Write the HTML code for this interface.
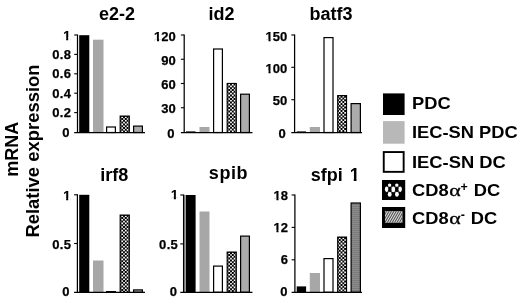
<!DOCTYPE html>
<html><head><meta charset="utf-8"><title>mRNA relative expression</title>
<style>
html,body{margin:0;padding:0;background:#fff;}
body{width:520px;height:301px;overflow:hidden;}
svg{display:block;}
text{font-family:"Liberation Sans",Arial,Helvetica,sans-serif;font-weight:bold;fill:#000;}
.t{font-size:18px;text-anchor:middle;}
.k{font-size:13px;text-anchor:end;stroke:#000;stroke-width:0.25px;}
.l{font-size:18px;}
.a{font-family:"Liberation Serif","DejaVu Serif",serif;font-weight:normal;font-size:17.5px;stroke:#000;stroke-width:0.3px;}
.s{font-size:12.5px;}
</style></head><body>
<svg width="520" height="301" viewBox="0 0 520 301">
<defs>
<pattern id="hst" width="2" height="2" patternUnits="userSpaceOnUse"><rect width="2" height="2" fill="#8c8c8c"/><rect width="2" height="1" fill="#7a7a7a"/></pattern>
<filter id="b1" x="-20%" y="-20%" width="140%" height="140%"><feGaussianBlur stdDeviation="0.35"/></filter>
</defs>
<rect width="520" height="301" fill="#fff"/>
<text class="l" transform="translate(18.1,149.2) rotate(-90)" text-anchor="middle">mRNA</text>
<text class="l" style="font-size:18.45px" transform="translate(38.8,151) rotate(-90)" text-anchor="middle">Relative expression</text>
<g>
<text class="t" x="116.9" y="20.2">e2-2</text>
<rect x="79.2" y="35.2" width="10.10" height="97.30" fill="#000"/>
<rect x="93" y="39.7" width="10.50" height="92.80" fill="#a7a7a7"/>
<rect x="106.60" y="127.00" width="8.80" height="5.50" fill="#fff" stroke="#000" stroke-width="1.2"/>
<clipPath id="k0"><rect x="120.75" y="116.65" width="8.00" height="15.85"/></clipPath><rect x="119.60" y="115.50" width="10.30" height="17.00" fill="#000"/><path clip-path="url(#k0)" d="M117.75 116.40h1.7v1.6h-1.7zM121.35 116.40h1.7v1.6h-1.7zM124.95 116.40h1.7v1.6h-1.7zM128.55 116.40h1.7v1.6h-1.7zM119.55 118.20h1.7v1.6h-1.7zM123.15 118.20h1.7v1.6h-1.7zM126.75 118.20h1.7v1.6h-1.7zM117.75 120.00h1.7v1.6h-1.7zM121.35 120.00h1.7v1.6h-1.7zM124.95 120.00h1.7v1.6h-1.7zM128.55 120.00h1.7v1.6h-1.7zM119.55 121.80h1.7v1.6h-1.7zM123.15 121.80h1.7v1.6h-1.7zM126.75 121.80h1.7v1.6h-1.7zM117.75 123.60h1.7v1.6h-1.7zM121.35 123.60h1.7v1.6h-1.7zM124.95 123.60h1.7v1.6h-1.7zM128.55 123.60h1.7v1.6h-1.7zM119.55 125.40h1.7v1.6h-1.7zM123.15 125.40h1.7v1.6h-1.7zM126.75 125.40h1.7v1.6h-1.7zM117.75 127.20h1.7v1.6h-1.7zM121.35 127.20h1.7v1.6h-1.7zM124.95 127.20h1.7v1.6h-1.7zM128.55 127.20h1.7v1.6h-1.7zM119.55 129.00h1.7v1.6h-1.7zM123.15 129.00h1.7v1.6h-1.7zM126.75 129.00h1.7v1.6h-1.7zM117.75 130.80h1.7v1.6h-1.7zM121.35 130.80h1.7v1.6h-1.7zM124.95 130.80h1.7v1.6h-1.7zM128.55 130.80h1.7v1.6h-1.7zM119.55 132.60h1.7v1.6h-1.7zM123.15 132.60h1.7v1.6h-1.7zM126.75 132.60h1.7v1.6h-1.7z" fill="#fff"/>
<rect x="133.60" y="126.10" width="8.80" height="6.40" fill="#acacac" stroke="#000" stroke-width="1.2"/>
<path d="M77.5 34.4V133.1M74.2 132.5H145" stroke="#000" stroke-width="1.25" fill="none"/>
<path d="M74.2 35H77.5" stroke="#000" stroke-width="1.1"/><clipPath id="f1"><path d="M60.27 23.90H73.50V37.42H60.27zM60.27 37.32H63.49V44.70H60.27zM66.16 37.32H68.24V44.70H66.16zM70.74 37.32H73.50V44.70H70.74z"/></clipPath><text class="k" x="70.50" y="39.50" clip-path="url(#f1)">1</text>
<path d="M74.2 54.4H77.5" stroke="#000" stroke-width="1.1"/><text class="k" x="71.30" y="58.90" letter-spacing="0.3">0.8</text>
<path d="M74.2 73.8H77.5" stroke="#000" stroke-width="1.1"/><text class="k" x="71.30" y="78.30" letter-spacing="0.3">0.6</text>
<path d="M74.2 93.2H77.5" stroke="#000" stroke-width="1.1"/><text class="k" x="71.30" y="97.70" letter-spacing="0.3">0.4</text>
<path d="M74.2 112.6H77.5" stroke="#000" stroke-width="1.1"/><text class="k" x="71.30" y="117.10" letter-spacing="0.3">0.2</text>
<text class="k" x="69.50" y="136.70">0</text>
</g>
<g>
<text class="t" x="221.5" y="20.2">id2</text>
<rect x="186" y="131.4" width="9.60" height="1.10" fill="#000"/>
<rect x="199.5" y="127.0" width="10.00" height="5.50" fill="#a7a7a7"/>
<rect x="213.60" y="49.00" width="8.80" height="83.50" fill="#fff" stroke="#000" stroke-width="1.2"/>
<clipPath id="k1"><rect x="227.75" y="84.05" width="8.00" height="48.45"/></clipPath><rect x="226.60" y="82.90" width="10.30" height="49.60" fill="#000"/><path clip-path="url(#k1)" d="M224.75 83.80h1.7v1.6h-1.7zM228.35 83.80h1.7v1.6h-1.7zM231.95 83.80h1.7v1.6h-1.7zM235.55 83.80h1.7v1.6h-1.7zM226.55 85.60h1.7v1.6h-1.7zM230.15 85.60h1.7v1.6h-1.7zM233.75 85.60h1.7v1.6h-1.7zM224.75 87.40h1.7v1.6h-1.7zM228.35 87.40h1.7v1.6h-1.7zM231.95 87.40h1.7v1.6h-1.7zM235.55 87.40h1.7v1.6h-1.7zM226.55 89.20h1.7v1.6h-1.7zM230.15 89.20h1.7v1.6h-1.7zM233.75 89.20h1.7v1.6h-1.7zM224.75 91.00h1.7v1.6h-1.7zM228.35 91.00h1.7v1.6h-1.7zM231.95 91.00h1.7v1.6h-1.7zM235.55 91.00h1.7v1.6h-1.7zM226.55 92.80h1.7v1.6h-1.7zM230.15 92.80h1.7v1.6h-1.7zM233.75 92.80h1.7v1.6h-1.7zM224.75 94.60h1.7v1.6h-1.7zM228.35 94.60h1.7v1.6h-1.7zM231.95 94.60h1.7v1.6h-1.7zM235.55 94.60h1.7v1.6h-1.7zM226.55 96.40h1.7v1.6h-1.7zM230.15 96.40h1.7v1.6h-1.7zM233.75 96.40h1.7v1.6h-1.7zM224.75 98.20h1.7v1.6h-1.7zM228.35 98.20h1.7v1.6h-1.7zM231.95 98.20h1.7v1.6h-1.7zM235.55 98.20h1.7v1.6h-1.7zM226.55 100.00h1.7v1.6h-1.7zM230.15 100.00h1.7v1.6h-1.7zM233.75 100.00h1.7v1.6h-1.7zM224.75 101.80h1.7v1.6h-1.7zM228.35 101.80h1.7v1.6h-1.7zM231.95 101.80h1.7v1.6h-1.7zM235.55 101.80h1.7v1.6h-1.7zM226.55 103.60h1.7v1.6h-1.7zM230.15 103.60h1.7v1.6h-1.7zM233.75 103.60h1.7v1.6h-1.7zM224.75 105.40h1.7v1.6h-1.7zM228.35 105.40h1.7v1.6h-1.7zM231.95 105.40h1.7v1.6h-1.7zM235.55 105.40h1.7v1.6h-1.7zM226.55 107.20h1.7v1.6h-1.7zM230.15 107.20h1.7v1.6h-1.7zM233.75 107.20h1.7v1.6h-1.7zM224.75 109.00h1.7v1.6h-1.7zM228.35 109.00h1.7v1.6h-1.7zM231.95 109.00h1.7v1.6h-1.7zM235.55 109.00h1.7v1.6h-1.7zM226.55 110.80h1.7v1.6h-1.7zM230.15 110.80h1.7v1.6h-1.7zM233.75 110.80h1.7v1.6h-1.7zM224.75 112.60h1.7v1.6h-1.7zM228.35 112.60h1.7v1.6h-1.7zM231.95 112.60h1.7v1.6h-1.7zM235.55 112.60h1.7v1.6h-1.7zM226.55 114.40h1.7v1.6h-1.7zM230.15 114.40h1.7v1.6h-1.7zM233.75 114.40h1.7v1.6h-1.7zM224.75 116.20h1.7v1.6h-1.7zM228.35 116.20h1.7v1.6h-1.7zM231.95 116.20h1.7v1.6h-1.7zM235.55 116.20h1.7v1.6h-1.7zM226.55 118.00h1.7v1.6h-1.7zM230.15 118.00h1.7v1.6h-1.7zM233.75 118.00h1.7v1.6h-1.7zM224.75 119.80h1.7v1.6h-1.7zM228.35 119.80h1.7v1.6h-1.7zM231.95 119.80h1.7v1.6h-1.7zM235.55 119.80h1.7v1.6h-1.7zM226.55 121.60h1.7v1.6h-1.7zM230.15 121.60h1.7v1.6h-1.7zM233.75 121.60h1.7v1.6h-1.7zM224.75 123.40h1.7v1.6h-1.7zM228.35 123.40h1.7v1.6h-1.7zM231.95 123.40h1.7v1.6h-1.7zM235.55 123.40h1.7v1.6h-1.7zM226.55 125.20h1.7v1.6h-1.7zM230.15 125.20h1.7v1.6h-1.7zM233.75 125.20h1.7v1.6h-1.7zM224.75 127.00h1.7v1.6h-1.7zM228.35 127.00h1.7v1.6h-1.7zM231.95 127.00h1.7v1.6h-1.7zM235.55 127.00h1.7v1.6h-1.7zM226.55 128.80h1.7v1.6h-1.7zM230.15 128.80h1.7v1.6h-1.7zM233.75 128.80h1.7v1.6h-1.7zM224.75 130.60h1.7v1.6h-1.7zM228.35 130.60h1.7v1.6h-1.7zM231.95 130.60h1.7v1.6h-1.7zM235.55 130.60h1.7v1.6h-1.7zM226.55 132.40h1.7v1.6h-1.7zM230.15 132.40h1.7v1.6h-1.7zM233.75 132.40h1.7v1.6h-1.7z" fill="#fff"/>
<rect x="240.60" y="94.20" width="8.80" height="38.30" fill="#acacac" stroke="#000" stroke-width="1.2"/>
<path d="M184.2 34.4V133.1M180.89999999999998 132.5H252.5" stroke="#000" stroke-width="1.25" fill="none"/>
<path d="M180.89999999999998 35H184.2" stroke="#000" stroke-width="1.1"/><clipPath id="f2"><path d="M151.12 25.70H178.80V39.22H151.12zM151.12 39.12H154.33V46.50H151.12zM157.00 39.12H159.08V46.50H157.00zM161.58 39.12H178.80V46.50H161.58z"/></clipPath><text class="k" x="175.80" y="41.30" clip-path="url(#f2)">120</text>
<path d="M180.89999999999998 59.25H184.2" stroke="#000" stroke-width="1.1"/><text class="k" x="175.80" y="64.65">90</text>
<path d="M180.89999999999998 83.5H184.2" stroke="#000" stroke-width="1.1"/><text class="k" x="175.80" y="88.90">60</text>
<path d="M180.89999999999998 107.75H184.2" stroke="#000" stroke-width="1.1"/><text class="k" x="175.80" y="113.15">30</text>
<text class="k" x="174.40" y="137.90">0</text>
</g>
<g>
<text class="t" x="331" y="20.2">batf3</text>
<rect x="296.7" y="131.4" width="9.40" height="1.10" fill="#000"/>
<rect x="309.8" y="127" width="10.20" height="5.50" fill="#a7a7a7"/>
<rect x="324.00" y="37.60" width="9.00" height="94.90" fill="#fff" stroke="#000" stroke-width="1.2"/>
<clipPath id="k2"><rect x="338.25" y="96.15" width="7.70" height="36.35"/></clipPath><rect x="337.10" y="95.00" width="10.00" height="37.50" fill="#000"/><path clip-path="url(#k2)" d="M335.25 95.90h1.7v1.6h-1.7zM338.85 95.90h1.7v1.6h-1.7zM342.45 95.90h1.7v1.6h-1.7zM346.05 95.90h1.7v1.6h-1.7zM337.05 97.70h1.7v1.6h-1.7zM340.65 97.70h1.7v1.6h-1.7zM344.25 97.70h1.7v1.6h-1.7zM335.25 99.50h1.7v1.6h-1.7zM338.85 99.50h1.7v1.6h-1.7zM342.45 99.50h1.7v1.6h-1.7zM346.05 99.50h1.7v1.6h-1.7zM337.05 101.30h1.7v1.6h-1.7zM340.65 101.30h1.7v1.6h-1.7zM344.25 101.30h1.7v1.6h-1.7zM335.25 103.10h1.7v1.6h-1.7zM338.85 103.10h1.7v1.6h-1.7zM342.45 103.10h1.7v1.6h-1.7zM346.05 103.10h1.7v1.6h-1.7zM337.05 104.90h1.7v1.6h-1.7zM340.65 104.90h1.7v1.6h-1.7zM344.25 104.90h1.7v1.6h-1.7zM335.25 106.70h1.7v1.6h-1.7zM338.85 106.70h1.7v1.6h-1.7zM342.45 106.70h1.7v1.6h-1.7zM346.05 106.70h1.7v1.6h-1.7zM337.05 108.50h1.7v1.6h-1.7zM340.65 108.50h1.7v1.6h-1.7zM344.25 108.50h1.7v1.6h-1.7zM335.25 110.30h1.7v1.6h-1.7zM338.85 110.30h1.7v1.6h-1.7zM342.45 110.30h1.7v1.6h-1.7zM346.05 110.30h1.7v1.6h-1.7zM337.05 112.10h1.7v1.6h-1.7zM340.65 112.10h1.7v1.6h-1.7zM344.25 112.10h1.7v1.6h-1.7zM335.25 113.90h1.7v1.6h-1.7zM338.85 113.90h1.7v1.6h-1.7zM342.45 113.90h1.7v1.6h-1.7zM346.05 113.90h1.7v1.6h-1.7zM337.05 115.70h1.7v1.6h-1.7zM340.65 115.70h1.7v1.6h-1.7zM344.25 115.70h1.7v1.6h-1.7zM335.25 117.50h1.7v1.6h-1.7zM338.85 117.50h1.7v1.6h-1.7zM342.45 117.50h1.7v1.6h-1.7zM346.05 117.50h1.7v1.6h-1.7zM337.05 119.30h1.7v1.6h-1.7zM340.65 119.30h1.7v1.6h-1.7zM344.25 119.30h1.7v1.6h-1.7zM335.25 121.10h1.7v1.6h-1.7zM338.85 121.10h1.7v1.6h-1.7zM342.45 121.10h1.7v1.6h-1.7zM346.05 121.10h1.7v1.6h-1.7zM337.05 122.90h1.7v1.6h-1.7zM340.65 122.90h1.7v1.6h-1.7zM344.25 122.90h1.7v1.6h-1.7zM335.25 124.70h1.7v1.6h-1.7zM338.85 124.70h1.7v1.6h-1.7zM342.45 124.70h1.7v1.6h-1.7zM346.05 124.70h1.7v1.6h-1.7zM337.05 126.50h1.7v1.6h-1.7zM340.65 126.50h1.7v1.6h-1.7zM344.25 126.50h1.7v1.6h-1.7zM335.25 128.30h1.7v1.6h-1.7zM338.85 128.30h1.7v1.6h-1.7zM342.45 128.30h1.7v1.6h-1.7zM346.05 128.30h1.7v1.6h-1.7zM337.05 130.10h1.7v1.6h-1.7zM340.65 130.10h1.7v1.6h-1.7zM344.25 130.10h1.7v1.6h-1.7zM335.25 131.90h1.7v1.6h-1.7zM338.85 131.90h1.7v1.6h-1.7zM342.45 131.90h1.7v1.6h-1.7zM346.05 131.90h1.7v1.6h-1.7z" fill="#fff"/>
<rect x="351.10" y="103.60" width="9.30" height="28.90" fill="#acacac" stroke="#000" stroke-width="1.2"/>
<path d="M294.6 34.4V133.1M291.3 132.5H362" stroke="#000" stroke-width="1.25" fill="none"/>
<path d="M291.3 35H294.6" stroke="#000" stroke-width="1.1"/><clipPath id="f3"><path d="M262.62 25.70H290.30V39.22H262.62zM262.62 39.12H265.83V46.50H262.62zM268.50 39.12H270.58V46.50H268.50zM273.08 39.12H290.30V46.50H273.08z"/></clipPath><text class="k" x="287.30" y="41.30" clip-path="url(#f3)">150</text>
<path d="M291.3 67.3H294.6" stroke="#000" stroke-width="1.1"/><clipPath id="f4"><path d="M262.62 57.10H290.30V70.62H262.62zM262.62 70.52H265.83V77.90H262.62zM268.50 70.52H270.58V77.90H268.50zM273.08 70.52H290.30V77.90H273.08z"/></clipPath><text class="k" x="287.30" y="72.70" clip-path="url(#f4)">100</text>
<path d="M291.3 99.7H294.6" stroke="#000" stroke-width="1.1"/><text class="k" x="287.30" y="105.10">50</text>
<text class="k" x="285.70" y="138.00">0</text>
</g>
<g>
<text class="t" x="114.25" y="181.3">irf8</text>
<rect x="79.2" y="194.8" width="10.10" height="97.45" fill="#000"/>
<rect x="93" y="260.5" width="10.50" height="31.75" fill="#a7a7a7"/>
<rect x="106.60" y="291.60" width="8.80" height="0.65" fill="#fff" stroke="#000" stroke-width="1.2"/>
<clipPath id="k3"><rect x="120.75" y="215.65" width="8.00" height="76.60"/></clipPath><rect x="119.60" y="214.50" width="10.30" height="77.75" fill="#000"/><path clip-path="url(#k3)" d="M117.75 215.40h1.7v1.6h-1.7zM121.35 215.40h1.7v1.6h-1.7zM124.95 215.40h1.7v1.6h-1.7zM128.55 215.40h1.7v1.6h-1.7zM119.55 217.20h1.7v1.6h-1.7zM123.15 217.20h1.7v1.6h-1.7zM126.75 217.20h1.7v1.6h-1.7zM117.75 219.00h1.7v1.6h-1.7zM121.35 219.00h1.7v1.6h-1.7zM124.95 219.00h1.7v1.6h-1.7zM128.55 219.00h1.7v1.6h-1.7zM119.55 220.80h1.7v1.6h-1.7zM123.15 220.80h1.7v1.6h-1.7zM126.75 220.80h1.7v1.6h-1.7zM117.75 222.60h1.7v1.6h-1.7zM121.35 222.60h1.7v1.6h-1.7zM124.95 222.60h1.7v1.6h-1.7zM128.55 222.60h1.7v1.6h-1.7zM119.55 224.40h1.7v1.6h-1.7zM123.15 224.40h1.7v1.6h-1.7zM126.75 224.40h1.7v1.6h-1.7zM117.75 226.20h1.7v1.6h-1.7zM121.35 226.20h1.7v1.6h-1.7zM124.95 226.20h1.7v1.6h-1.7zM128.55 226.20h1.7v1.6h-1.7zM119.55 228.00h1.7v1.6h-1.7zM123.15 228.00h1.7v1.6h-1.7zM126.75 228.00h1.7v1.6h-1.7zM117.75 229.80h1.7v1.6h-1.7zM121.35 229.80h1.7v1.6h-1.7zM124.95 229.80h1.7v1.6h-1.7zM128.55 229.80h1.7v1.6h-1.7zM119.55 231.60h1.7v1.6h-1.7zM123.15 231.60h1.7v1.6h-1.7zM126.75 231.60h1.7v1.6h-1.7zM117.75 233.40h1.7v1.6h-1.7zM121.35 233.40h1.7v1.6h-1.7zM124.95 233.40h1.7v1.6h-1.7zM128.55 233.40h1.7v1.6h-1.7zM119.55 235.20h1.7v1.6h-1.7zM123.15 235.20h1.7v1.6h-1.7zM126.75 235.20h1.7v1.6h-1.7zM117.75 237.00h1.7v1.6h-1.7zM121.35 237.00h1.7v1.6h-1.7zM124.95 237.00h1.7v1.6h-1.7zM128.55 237.00h1.7v1.6h-1.7zM119.55 238.80h1.7v1.6h-1.7zM123.15 238.80h1.7v1.6h-1.7zM126.75 238.80h1.7v1.6h-1.7zM117.75 240.60h1.7v1.6h-1.7zM121.35 240.60h1.7v1.6h-1.7zM124.95 240.60h1.7v1.6h-1.7zM128.55 240.60h1.7v1.6h-1.7zM119.55 242.40h1.7v1.6h-1.7zM123.15 242.40h1.7v1.6h-1.7zM126.75 242.40h1.7v1.6h-1.7zM117.75 244.20h1.7v1.6h-1.7zM121.35 244.20h1.7v1.6h-1.7zM124.95 244.20h1.7v1.6h-1.7zM128.55 244.20h1.7v1.6h-1.7zM119.55 246.00h1.7v1.6h-1.7zM123.15 246.00h1.7v1.6h-1.7zM126.75 246.00h1.7v1.6h-1.7zM117.75 247.80h1.7v1.6h-1.7zM121.35 247.80h1.7v1.6h-1.7zM124.95 247.80h1.7v1.6h-1.7zM128.55 247.80h1.7v1.6h-1.7zM119.55 249.60h1.7v1.6h-1.7zM123.15 249.60h1.7v1.6h-1.7zM126.75 249.60h1.7v1.6h-1.7zM117.75 251.40h1.7v1.6h-1.7zM121.35 251.40h1.7v1.6h-1.7zM124.95 251.40h1.7v1.6h-1.7zM128.55 251.40h1.7v1.6h-1.7zM119.55 253.20h1.7v1.6h-1.7zM123.15 253.20h1.7v1.6h-1.7zM126.75 253.20h1.7v1.6h-1.7zM117.75 255.00h1.7v1.6h-1.7zM121.35 255.00h1.7v1.6h-1.7zM124.95 255.00h1.7v1.6h-1.7zM128.55 255.00h1.7v1.6h-1.7zM119.55 256.80h1.7v1.6h-1.7zM123.15 256.80h1.7v1.6h-1.7zM126.75 256.80h1.7v1.6h-1.7zM117.75 258.60h1.7v1.6h-1.7zM121.35 258.60h1.7v1.6h-1.7zM124.95 258.60h1.7v1.6h-1.7zM128.55 258.60h1.7v1.6h-1.7zM119.55 260.40h1.7v1.6h-1.7zM123.15 260.40h1.7v1.6h-1.7zM126.75 260.40h1.7v1.6h-1.7zM117.75 262.20h1.7v1.6h-1.7zM121.35 262.20h1.7v1.6h-1.7zM124.95 262.20h1.7v1.6h-1.7zM128.55 262.20h1.7v1.6h-1.7zM119.55 264.00h1.7v1.6h-1.7zM123.15 264.00h1.7v1.6h-1.7zM126.75 264.00h1.7v1.6h-1.7zM117.75 265.80h1.7v1.6h-1.7zM121.35 265.80h1.7v1.6h-1.7zM124.95 265.80h1.7v1.6h-1.7zM128.55 265.80h1.7v1.6h-1.7zM119.55 267.60h1.7v1.6h-1.7zM123.15 267.60h1.7v1.6h-1.7zM126.75 267.60h1.7v1.6h-1.7zM117.75 269.40h1.7v1.6h-1.7zM121.35 269.40h1.7v1.6h-1.7zM124.95 269.40h1.7v1.6h-1.7zM128.55 269.40h1.7v1.6h-1.7zM119.55 271.20h1.7v1.6h-1.7zM123.15 271.20h1.7v1.6h-1.7zM126.75 271.20h1.7v1.6h-1.7zM117.75 273.00h1.7v1.6h-1.7zM121.35 273.00h1.7v1.6h-1.7zM124.95 273.00h1.7v1.6h-1.7zM128.55 273.00h1.7v1.6h-1.7zM119.55 274.80h1.7v1.6h-1.7zM123.15 274.80h1.7v1.6h-1.7zM126.75 274.80h1.7v1.6h-1.7zM117.75 276.60h1.7v1.6h-1.7zM121.35 276.60h1.7v1.6h-1.7zM124.95 276.60h1.7v1.6h-1.7zM128.55 276.60h1.7v1.6h-1.7zM119.55 278.40h1.7v1.6h-1.7zM123.15 278.40h1.7v1.6h-1.7zM126.75 278.40h1.7v1.6h-1.7zM117.75 280.20h1.7v1.6h-1.7zM121.35 280.20h1.7v1.6h-1.7zM124.95 280.20h1.7v1.6h-1.7zM128.55 280.20h1.7v1.6h-1.7zM119.55 282.00h1.7v1.6h-1.7zM123.15 282.00h1.7v1.6h-1.7zM126.75 282.00h1.7v1.6h-1.7zM117.75 283.80h1.7v1.6h-1.7zM121.35 283.80h1.7v1.6h-1.7zM124.95 283.80h1.7v1.6h-1.7zM128.55 283.80h1.7v1.6h-1.7zM119.55 285.60h1.7v1.6h-1.7zM123.15 285.60h1.7v1.6h-1.7zM126.75 285.60h1.7v1.6h-1.7zM117.75 287.40h1.7v1.6h-1.7zM121.35 287.40h1.7v1.6h-1.7zM124.95 287.40h1.7v1.6h-1.7zM128.55 287.40h1.7v1.6h-1.7zM119.55 289.20h1.7v1.6h-1.7zM123.15 289.20h1.7v1.6h-1.7zM126.75 289.20h1.7v1.6h-1.7zM117.75 291.00h1.7v1.6h-1.7zM121.35 291.00h1.7v1.6h-1.7zM124.95 291.00h1.7v1.6h-1.7zM128.55 291.00h1.7v1.6h-1.7z" fill="#fff"/>
<rect x="133.60" y="289.90" width="8.80" height="2.35" fill="#acacac" stroke="#000" stroke-width="1.2"/>
<path d="M77.4 194.20000000000002V292.85M74.10000000000001 292.25H145" stroke="#000" stroke-width="1.25" fill="none"/>
<path d="M74.10000000000001 194.8H77.4" stroke="#000" stroke-width="1.1"/><clipPath id="f5"><path d="M60.27 184.40H73.50V197.92H60.27zM60.27 197.82H63.49V205.20H60.27zM66.16 197.82H68.24V205.20H66.16zM70.74 197.82H73.50V205.20H70.74z"/></clipPath><text class="k" x="70.50" y="200.00" clip-path="url(#f5)">1</text>
<path d="M74.10000000000001 243.5H77.4" stroke="#000" stroke-width="1.1"/><text class="k" x="71.30" y="248.90" letter-spacing="0.3">0.5</text>
<text class="k" x="69.50" y="295.95">0</text>
</g>
<g>
<text class="t" x="228.5" y="179.3" letter-spacing="0.6">spib</text>
<rect x="183.6" y="195.0" width="2.60" height="97.25" fill="#9a9a9a"/>
<rect x="186" y="195.0" width="9.60" height="97.25" fill="#000"/>
<rect x="199.5" y="211.5" width="10.00" height="80.75" fill="#a7a7a7"/>
<rect x="213.60" y="266.10" width="8.80" height="26.15" fill="#fff" stroke="#000" stroke-width="1.2"/>
<clipPath id="k4"><rect x="227.75" y="252.65" width="8.00" height="39.60"/></clipPath><rect x="226.60" y="251.50" width="10.30" height="40.75" fill="#000"/><path clip-path="url(#k4)" d="M224.75 252.40h1.7v1.6h-1.7zM228.35 252.40h1.7v1.6h-1.7zM231.95 252.40h1.7v1.6h-1.7zM235.55 252.40h1.7v1.6h-1.7zM226.55 254.20h1.7v1.6h-1.7zM230.15 254.20h1.7v1.6h-1.7zM233.75 254.20h1.7v1.6h-1.7zM224.75 256.00h1.7v1.6h-1.7zM228.35 256.00h1.7v1.6h-1.7zM231.95 256.00h1.7v1.6h-1.7zM235.55 256.00h1.7v1.6h-1.7zM226.55 257.80h1.7v1.6h-1.7zM230.15 257.80h1.7v1.6h-1.7zM233.75 257.80h1.7v1.6h-1.7zM224.75 259.60h1.7v1.6h-1.7zM228.35 259.60h1.7v1.6h-1.7zM231.95 259.60h1.7v1.6h-1.7zM235.55 259.60h1.7v1.6h-1.7zM226.55 261.40h1.7v1.6h-1.7zM230.15 261.40h1.7v1.6h-1.7zM233.75 261.40h1.7v1.6h-1.7zM224.75 263.20h1.7v1.6h-1.7zM228.35 263.20h1.7v1.6h-1.7zM231.95 263.20h1.7v1.6h-1.7zM235.55 263.20h1.7v1.6h-1.7zM226.55 265.00h1.7v1.6h-1.7zM230.15 265.00h1.7v1.6h-1.7zM233.75 265.00h1.7v1.6h-1.7zM224.75 266.80h1.7v1.6h-1.7zM228.35 266.80h1.7v1.6h-1.7zM231.95 266.80h1.7v1.6h-1.7zM235.55 266.80h1.7v1.6h-1.7zM226.55 268.60h1.7v1.6h-1.7zM230.15 268.60h1.7v1.6h-1.7zM233.75 268.60h1.7v1.6h-1.7zM224.75 270.40h1.7v1.6h-1.7zM228.35 270.40h1.7v1.6h-1.7zM231.95 270.40h1.7v1.6h-1.7zM235.55 270.40h1.7v1.6h-1.7zM226.55 272.20h1.7v1.6h-1.7zM230.15 272.20h1.7v1.6h-1.7zM233.75 272.20h1.7v1.6h-1.7zM224.75 274.00h1.7v1.6h-1.7zM228.35 274.00h1.7v1.6h-1.7zM231.95 274.00h1.7v1.6h-1.7zM235.55 274.00h1.7v1.6h-1.7zM226.55 275.80h1.7v1.6h-1.7zM230.15 275.80h1.7v1.6h-1.7zM233.75 275.80h1.7v1.6h-1.7zM224.75 277.60h1.7v1.6h-1.7zM228.35 277.60h1.7v1.6h-1.7zM231.95 277.60h1.7v1.6h-1.7zM235.55 277.60h1.7v1.6h-1.7zM226.55 279.40h1.7v1.6h-1.7zM230.15 279.40h1.7v1.6h-1.7zM233.75 279.40h1.7v1.6h-1.7zM224.75 281.20h1.7v1.6h-1.7zM228.35 281.20h1.7v1.6h-1.7zM231.95 281.20h1.7v1.6h-1.7zM235.55 281.20h1.7v1.6h-1.7zM226.55 283.00h1.7v1.6h-1.7zM230.15 283.00h1.7v1.6h-1.7zM233.75 283.00h1.7v1.6h-1.7zM224.75 284.80h1.7v1.6h-1.7zM228.35 284.80h1.7v1.6h-1.7zM231.95 284.80h1.7v1.6h-1.7zM235.55 284.80h1.7v1.6h-1.7zM226.55 286.60h1.7v1.6h-1.7zM230.15 286.60h1.7v1.6h-1.7zM233.75 286.60h1.7v1.6h-1.7zM224.75 288.40h1.7v1.6h-1.7zM228.35 288.40h1.7v1.6h-1.7zM231.95 288.40h1.7v1.6h-1.7zM235.55 288.40h1.7v1.6h-1.7zM226.55 290.20h1.7v1.6h-1.7zM230.15 290.20h1.7v1.6h-1.7zM233.75 290.20h1.7v1.6h-1.7zM224.75 292.00h1.7v1.6h-1.7zM228.35 292.00h1.7v1.6h-1.7zM231.95 292.00h1.7v1.6h-1.7zM235.55 292.00h1.7v1.6h-1.7z" fill="#fff"/>
<rect x="240.60" y="236.10" width="8.80" height="56.15" fill="#acacac" stroke="#000" stroke-width="1.2"/>
<path d="M183.6 194.4V292.85M180.29999999999998 292.25H252.5" stroke="#000" stroke-width="1.25" fill="none"/>
<path d="M180.29999999999998 195.0H183.6" stroke="#000" stroke-width="1.1"/><clipPath id="f6"><path d="M167.97 183.80H181.20V197.32H167.97zM167.97 197.22H171.19V204.60H167.97zM173.86 197.22H175.94V204.60H173.86zM178.44 197.22H181.20V204.60H178.44z"/></clipPath><text class="k" x="178.20" y="199.40" clip-path="url(#f6)">1</text>
<path d="M180.29999999999998 243.9H183.6" stroke="#000" stroke-width="1.1"/><text class="k" x="178.10" y="249.30" letter-spacing="0.3">0.5</text>
<text class="k" x="176.90" y="295.55">0</text>
</g>
<clipPath id="f7"><path d="M289.70 159.40H362.71V178.41H289.70zM289.70 178.31H350.23V188.20H289.70zM353.75 178.31H356.52V188.20H353.75zM359.81 178.31H362.71V188.20H359.81z"/></clipPath><g>
<text class="t" x="335.2" y="181" clip-path="url(#f7)">sfpi <tspan dx="2">1</tspan></text>
<rect x="296.7" y="286.4" width="9.40" height="5.85" fill="#000"/>
<rect x="309.8" y="273" width="10.20" height="19.25" fill="#a7a7a7"/>
<rect x="324.00" y="258.60" width="9.00" height="33.65" fill="#fff" stroke="#000" stroke-width="1.2"/>
<clipPath id="k5"><rect x="338.25" y="237.65" width="7.70" height="54.60"/></clipPath><rect x="337.10" y="236.50" width="10.00" height="55.75" fill="#000"/><path clip-path="url(#k5)" d="M335.25 237.40h1.7v1.6h-1.7zM338.85 237.40h1.7v1.6h-1.7zM342.45 237.40h1.7v1.6h-1.7zM346.05 237.40h1.7v1.6h-1.7zM337.05 239.20h1.7v1.6h-1.7zM340.65 239.20h1.7v1.6h-1.7zM344.25 239.20h1.7v1.6h-1.7zM335.25 241.00h1.7v1.6h-1.7zM338.85 241.00h1.7v1.6h-1.7zM342.45 241.00h1.7v1.6h-1.7zM346.05 241.00h1.7v1.6h-1.7zM337.05 242.80h1.7v1.6h-1.7zM340.65 242.80h1.7v1.6h-1.7zM344.25 242.80h1.7v1.6h-1.7zM335.25 244.60h1.7v1.6h-1.7zM338.85 244.60h1.7v1.6h-1.7zM342.45 244.60h1.7v1.6h-1.7zM346.05 244.60h1.7v1.6h-1.7zM337.05 246.40h1.7v1.6h-1.7zM340.65 246.40h1.7v1.6h-1.7zM344.25 246.40h1.7v1.6h-1.7zM335.25 248.20h1.7v1.6h-1.7zM338.85 248.20h1.7v1.6h-1.7zM342.45 248.20h1.7v1.6h-1.7zM346.05 248.20h1.7v1.6h-1.7zM337.05 250.00h1.7v1.6h-1.7zM340.65 250.00h1.7v1.6h-1.7zM344.25 250.00h1.7v1.6h-1.7zM335.25 251.80h1.7v1.6h-1.7zM338.85 251.80h1.7v1.6h-1.7zM342.45 251.80h1.7v1.6h-1.7zM346.05 251.80h1.7v1.6h-1.7zM337.05 253.60h1.7v1.6h-1.7zM340.65 253.60h1.7v1.6h-1.7zM344.25 253.60h1.7v1.6h-1.7zM335.25 255.40h1.7v1.6h-1.7zM338.85 255.40h1.7v1.6h-1.7zM342.45 255.40h1.7v1.6h-1.7zM346.05 255.40h1.7v1.6h-1.7zM337.05 257.20h1.7v1.6h-1.7zM340.65 257.20h1.7v1.6h-1.7zM344.25 257.20h1.7v1.6h-1.7zM335.25 259.00h1.7v1.6h-1.7zM338.85 259.00h1.7v1.6h-1.7zM342.45 259.00h1.7v1.6h-1.7zM346.05 259.00h1.7v1.6h-1.7zM337.05 260.80h1.7v1.6h-1.7zM340.65 260.80h1.7v1.6h-1.7zM344.25 260.80h1.7v1.6h-1.7zM335.25 262.60h1.7v1.6h-1.7zM338.85 262.60h1.7v1.6h-1.7zM342.45 262.60h1.7v1.6h-1.7zM346.05 262.60h1.7v1.6h-1.7zM337.05 264.40h1.7v1.6h-1.7zM340.65 264.40h1.7v1.6h-1.7zM344.25 264.40h1.7v1.6h-1.7zM335.25 266.20h1.7v1.6h-1.7zM338.85 266.20h1.7v1.6h-1.7zM342.45 266.20h1.7v1.6h-1.7zM346.05 266.20h1.7v1.6h-1.7zM337.05 268.00h1.7v1.6h-1.7zM340.65 268.00h1.7v1.6h-1.7zM344.25 268.00h1.7v1.6h-1.7zM335.25 269.80h1.7v1.6h-1.7zM338.85 269.80h1.7v1.6h-1.7zM342.45 269.80h1.7v1.6h-1.7zM346.05 269.80h1.7v1.6h-1.7zM337.05 271.60h1.7v1.6h-1.7zM340.65 271.60h1.7v1.6h-1.7zM344.25 271.60h1.7v1.6h-1.7zM335.25 273.40h1.7v1.6h-1.7zM338.85 273.40h1.7v1.6h-1.7zM342.45 273.40h1.7v1.6h-1.7zM346.05 273.40h1.7v1.6h-1.7zM337.05 275.20h1.7v1.6h-1.7zM340.65 275.20h1.7v1.6h-1.7zM344.25 275.20h1.7v1.6h-1.7zM335.25 277.00h1.7v1.6h-1.7zM338.85 277.00h1.7v1.6h-1.7zM342.45 277.00h1.7v1.6h-1.7zM346.05 277.00h1.7v1.6h-1.7zM337.05 278.80h1.7v1.6h-1.7zM340.65 278.80h1.7v1.6h-1.7zM344.25 278.80h1.7v1.6h-1.7zM335.25 280.60h1.7v1.6h-1.7zM338.85 280.60h1.7v1.6h-1.7zM342.45 280.60h1.7v1.6h-1.7zM346.05 280.60h1.7v1.6h-1.7zM337.05 282.40h1.7v1.6h-1.7zM340.65 282.40h1.7v1.6h-1.7zM344.25 282.40h1.7v1.6h-1.7zM335.25 284.20h1.7v1.6h-1.7zM338.85 284.20h1.7v1.6h-1.7zM342.45 284.20h1.7v1.6h-1.7zM346.05 284.20h1.7v1.6h-1.7zM337.05 286.00h1.7v1.6h-1.7zM340.65 286.00h1.7v1.6h-1.7zM344.25 286.00h1.7v1.6h-1.7zM335.25 287.80h1.7v1.6h-1.7zM338.85 287.80h1.7v1.6h-1.7zM342.45 287.80h1.7v1.6h-1.7zM346.05 287.80h1.7v1.6h-1.7zM337.05 289.60h1.7v1.6h-1.7zM340.65 289.60h1.7v1.6h-1.7zM344.25 289.60h1.7v1.6h-1.7zM335.25 291.40h1.7v1.6h-1.7zM338.85 291.40h1.7v1.6h-1.7zM342.45 291.40h1.7v1.6h-1.7zM346.05 291.40h1.7v1.6h-1.7z" fill="#fff"/>
<rect x="351.10" y="203.00" width="9.30" height="89.25" fill="url(#hst)" stroke="#000" stroke-width="1.2"/>
<path d="M294.9 194.4V292.85M291.59999999999997 292.25H362" stroke="#000" stroke-width="1.25" fill="none"/>
<path d="M291.59999999999997 195H294.9" stroke="#000" stroke-width="1.1"/><clipPath id="f8"><path d="M270.54 184.80H291.00V198.32H270.54zM270.54 198.22H273.76V205.60H270.54zM276.43 198.22H278.51V205.60H276.43zM281.01 198.22H291.00V205.60H281.01z"/></clipPath><text class="k" x="288.00" y="200.40" clip-path="url(#f8)">18</text>
<path d="M291.59999999999997 227.4H294.9" stroke="#000" stroke-width="1.1"/><clipPath id="f9"><path d="M270.54 216.20H291.00V229.72H270.54zM270.54 229.62H273.76V237.00H270.54zM276.43 229.62H278.51V237.00H276.43zM281.01 229.62H291.00V237.00H281.01z"/></clipPath><text class="k" x="288.00" y="231.80" clip-path="url(#f9)">12</text>
<path d="M291.59999999999997 259.8H294.9" stroke="#000" stroke-width="1.1"/><text class="k" x="288.00" y="264.40">6</text>
<text class="k" x="287.40" y="295.65">0</text>
</g>
<g>
<rect x="383" y="93.4" width="21.6" height="21.6" fill="#000"/>
<rect x="383" y="121.1" width="21.6" height="22.6" fill="#b8b8b8"/>
<rect x="383.75" y="152.05" width="19.9" height="19.8" fill="#fff" stroke="#000" stroke-width="1.9"/>
<rect x="382" y="180" width="23.2" height="20" fill="#000"/>
<g fill="#fff" filter="url(#b1)">
<path d="M386.6 189.3L389.6 185.2L393.3 189.3L396.8 185.2L400.2 189.3L396.9 194.2L393.3 189.3L389.7 194.2z" fill="none" stroke="#fff" stroke-opacity="0.3" stroke-width="1.2"/>
<ellipse cx="389.6" cy="185.1" rx="1.7" ry="1.7"/><ellipse cx="396.8" cy="185.1" rx="1.7" ry="1.7"/>
<ellipse cx="386.6" cy="189.3" rx="1.7" ry="2.9"/><ellipse cx="393.3" cy="189.3" rx="1.8" ry="2.9"/><ellipse cx="400.2" cy="189.3" rx="1.7" ry="2.9"/>
<ellipse cx="389.7" cy="194.2" rx="1.9" ry="2.5"/><ellipse cx="396.9" cy="194.2" rx="1.9" ry="2.5"/>
</g>
<rect x="382" y="207" width="23.2" height="21" fill="#000"/>
<clipPath id="cp"><rect x="385" y="211.2" width="17.4" height="11.5"/></clipPath>
<rect x="385" y="211.2" width="17.4" height="11.5" fill="#e4e4e4"/>
<path clip-path="url(#cp)" d="M377.36 223.20L384.58 210.70M379.76 223.20L386.98 210.70M382.16 223.20L389.38 210.70M384.56 223.20L391.78 210.70M386.96 223.20L394.18 210.70M389.36 223.20L396.58 210.70M391.76 223.20L398.98 210.70M394.16 223.20L401.38 210.70M396.56 223.20L403.78 210.70M398.96 223.20L406.18 210.70M401.36 223.20L408.58 210.70" stroke="#555" stroke-width="1.15" fill="none"/>
<g transform="translate(412,109) scale(1.017,0.95)"><text class="l" x="0" y="0">PDC</text></g>
<g transform="translate(412,138.3) scale(1.017,0.95)"><text class="l" x="0" y="0">IEC-SN PDC</text></g>
<g transform="translate(412,167.9) scale(1.02,0.95)"><text class="l" x="0" y="0">IEC-SN DC</text></g>
<g transform="translate(412,196.1) scale(1.017,0.95)"><text class="l" x="0" y="0">CD8</text></g>
<g transform="translate(449.3,196.1) scale(1.25,1)"><text class="a" x="0" y="0">α</text></g>
<text class="s" x="460.4" y="191">+</text>
<g transform="translate(473.7,196.1) scale(1.017,0.95)"><text class="l" x="0" y="0">DC</text></g>
<g transform="translate(412,223.7) scale(1.017,0.95)"><text class="l" x="0" y="0">CD8</text></g>
<g transform="translate(449.3,223.7) scale(1.25,1)"><text class="a" x="0" y="0">α</text></g>
<text class="s" x="460.8" y="218.6">-</text>
<g transform="translate(470.7,223.7) scale(1.017,0.95)"><text class="l" x="0" y="0">DC</text></g>
</g>
</svg>
</body></html>
